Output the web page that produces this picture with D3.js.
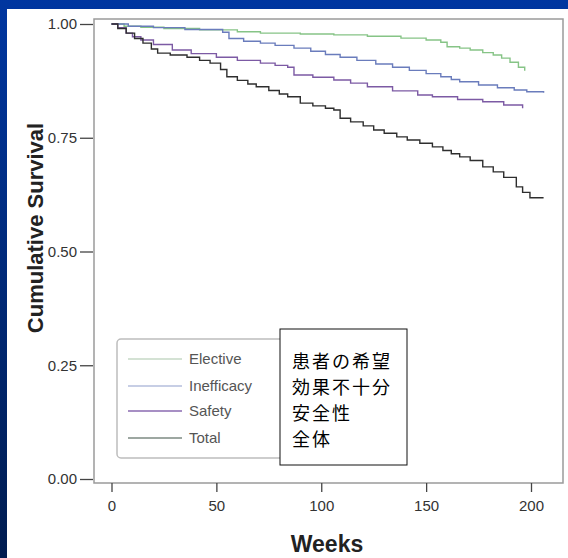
<!DOCTYPE html>
<html>
<head>
<meta charset="utf-8">
<script src="https://cdn.jsdelivr.net/npm/d3@7"></script>
<style>
  body { margin: 0; padding: 0; }
</style>
</head>
<body>
<div id="chart"></div>
<script>
// Kaplan-Meier step data (weeks, cumulative survival)
const electiveWeeks = [0, 6, 14, 25, 42, 60, 71, 90, 106, 122, 138, 150, 157, 160, 166, 171, 177, 182, 186, 190, 194, 197];
const electiveSurv  = [1.0, 0.995, 0.993, 0.990, 0.987, 0.983, 0.980, 0.978, 0.976, 0.973, 0.969, 0.965, 0.960, 0.950, 0.947, 0.943, 0.937, 0.932, 0.925, 0.916, 0.905, 0.897];

const inefficacyWeeks = [0, 8, 20, 35, 53, 56, 63, 71, 78, 87, 95, 102, 109, 117, 126, 134, 142, 150, 157, 162, 166, 175, 184, 192, 198, 206];
const inefficacySurv  = [1.0, 0.995, 0.992, 0.988, 0.982, 0.968, 0.962, 0.958, 0.953, 0.947, 0.940, 0.933, 0.927, 0.920, 0.912, 0.905, 0.898, 0.891, 0.884, 0.878, 0.873, 0.866, 0.860, 0.855, 0.851, 0.849];

const safetyWeeks = [0, 3, 7, 10, 14, 20, 29, 38, 50, 60, 71, 78, 84, 87, 96, 106, 114, 122, 134, 146, 153, 165, 177, 187, 196];
const safetySurv  = [1.0, 0.992, 0.980, 0.972, 0.965, 0.955, 0.943, 0.935, 0.927, 0.920, 0.914, 0.909, 0.905, 0.888, 0.883, 0.877, 0.870, 0.862, 0.853, 0.844, 0.840, 0.834, 0.829, 0.822, 0.815];

const totalWeeks = [0, 3, 7, 11, 15, 19, 22, 28, 36, 42, 47, 52, 55, 60, 65, 69, 75, 80, 84, 90, 96, 102, 106, 109, 114, 120, 125, 130, 136, 141, 147, 153, 158, 162, 166, 171, 177, 182, 187, 193, 196, 199.5, 206];
const totalSurv  = [1.0, 0.990, 0.980, 0.968, 0.958, 0.945, 0.936, 0.932, 0.927, 0.920, 0.914, 0.900, 0.884, 0.876, 0.868, 0.862, 0.854, 0.846, 0.840, 0.826, 0.820, 0.815, 0.811, 0.793, 0.785, 0.776, 0.767, 0.760, 0.752, 0.745, 0.738, 0.730, 0.722, 0.715, 0.708, 0.700, 0.686, 0.675, 0.663, 0.642, 0.630, 0.618, 0.618];

const seriesNames = ["Elective", "Inefficacy", "Safety", "Total"];
const jpNames = ["患者の希望", "効果不十分", "安全性", "全体"];
const xTicks = [0, 50, 100, 150, 200];
const yTicks = [0, 0.25, 0.5, 0.75, 1.0];

const lineColors = ["#86c486", "#6a7cbc", "#7c5aa4", "#2e2e2e"];
const legendColors = ["#c6d8c6", "#b4bedd", "#8a6ab0", "#7c8a82"];

const W = 568, H = 558;

const svg = d3.select("#chart")
    .append("svg")
    .attr("width", W)
    .attr("height", H)

// blue slide background
const defs = svg.append("defs")
const grad = defs.append("linearGradient")
    .attr("id", "bg").attr("x1", 0).attr("y1", 0).attr("x2", 0).attr("y2", 1)
grad.append("stop").attr("offset", "0%").attr("stop-color", "#0036a0")
grad.append("stop").attr("offset", "100%").attr("stop-color", "#001c50")

svg.append("rect").attr("width", W).attr("height", H).attr("fill", "url(#bg)")
svg.append("rect").attr("x", 7).attr("y", 9).attr("width", W - 7).attr("height", H - 9).attr("fill", "#fff")

const x = d3.scaleLinear().domain([0, 200]).range([111.5, 531])
const y = d3.scaleLinear().domain([0, 1]).range([479, 24])

// plot frame
svg.append("rect")
    .attr("x", 94).attr("y", 19)
    .attr("width", 563 - 94).attr("height", 483 - 19)
    .attr("fill", "none").attr("stroke", "#9a9a9a").attr("stroke-width", 1.5)

// y axis
const yAxis = d3.axisLeft(y).tickValues(yTicks).tickFormat(d3.format(".2f")).tickSize(13).tickPadding(3)
svg.append("g")
    .attr("transform", "translate(93,0)")
    .call(yAxis)
    .call(g => g.select(".domain").remove())
    .call(g => g.selectAll("line").attr("stroke", "#444").attr("stroke-width", 1.3))
    .call(g => g.selectAll("text").attr("font-family", "Arial, 'Liberation Sans', sans-serif").attr("font-size", 15).attr("fill", "#333"))

// x axis
const xAxis = d3.axisBottom(x).tickValues(xTicks).tickSize(9).tickPadding(8)
svg.append("g")
    .attr("transform", "translate(0,483)")
    .call(xAxis)
    .call(g => g.select(".domain").remove())
    .call(g => g.selectAll("line").attr("stroke", "#444").attr("stroke-width", 1.3))
    .call(g => g.selectAll("text").attr("font-family", "Arial, 'Liberation Sans', sans-serif").attr("font-size", 15).attr("fill", "#333"))

// axis titles
svg.append("text")
    .attr("transform", "translate(43,228) rotate(-90)")
    .attr("text-anchor", "middle")
    .attr("font-family", "Arial, 'Liberation Sans', sans-serif")
    .attr("font-weight", "bold").attr("font-size", 22).attr("fill", "#222")
    .text("Cumulative Survival")

svg.append("text")
    .attr("x", 327).attr("y", 552)
    .attr("text-anchor", "middle")
    .attr("font-family", "Arial, 'Liberation Sans', sans-serif")
    .attr("font-weight", "bold").attr("font-size", 23).attr("fill", "#222")
    .text("Weeks")

// curves
const series = [
    {weeks: electiveWeeks, surv: electiveSurv},
    {weeks: inefficacyWeeks, surv: inefficacySurv},
    {weeks: safetyWeeks, surv: safetySurv},
    {weeks: totalWeeks, surv: totalSurv}
]
const line = d3.line()
    .x(d => x(d[0]))
    .y(d => y(d[1]))
    .curve(d3.curveStepAfter)

series.forEach((s, i) => {
    svg.append("path")
        .datum(s.weeks.map((w, j) => [w, s.surv[j]]))
        .attr("d", line)
        .attr("fill", "none")
        .attr("stroke", lineColors[i])
        .attr("stroke-width", 1.4)
})

// legend
svg.append("rect")
    .attr("x", 117).attr("y", 339).attr("width", 190).attr("height", 119)
    .attr("rx", 4)
    .attr("fill", "#fff").attr("stroke", "#bdbdbd").attr("stroke-width", 1.5)

const legendY = [359, 386, 411, 438]
seriesNames.forEach((name, i) => {
    svg.append("line")
        .attr("x1", 128).attr("x2", 182)
        .attr("y1", legendY[i]).attr("y2", legendY[i])
        .attr("stroke", legendColors[i]).attr("stroke-width", 1.5)
    svg.append("text")
        .attr("x", 189).attr("y", legendY[i] + 5)
        .attr("font-family", "Arial, 'Liberation Sans', sans-serif")
        .attr("font-size", 15).attr("fill", "#555")
        .text(name)
})

// Japanese label box
svg.append("rect")
    .attr("x", 280).attr("y", 329).attr("width", 127).attr("height", 136)
    .attr("fill", "#fff").attr("stroke", "#111").attr("stroke-width", 1)

jpNames.forEach((name, i) => {
    svg.append("text")
        .attr("x", 292).attr("y", 368 + i * 26)
        .attr("font-family", "'Noto Sans CJK JP', sans-serif")
        .attr("font-size", 18).attr("letter-spacing", 2).attr("fill", "#000")
        .text(name)
})
</script>
</body>
</html>
